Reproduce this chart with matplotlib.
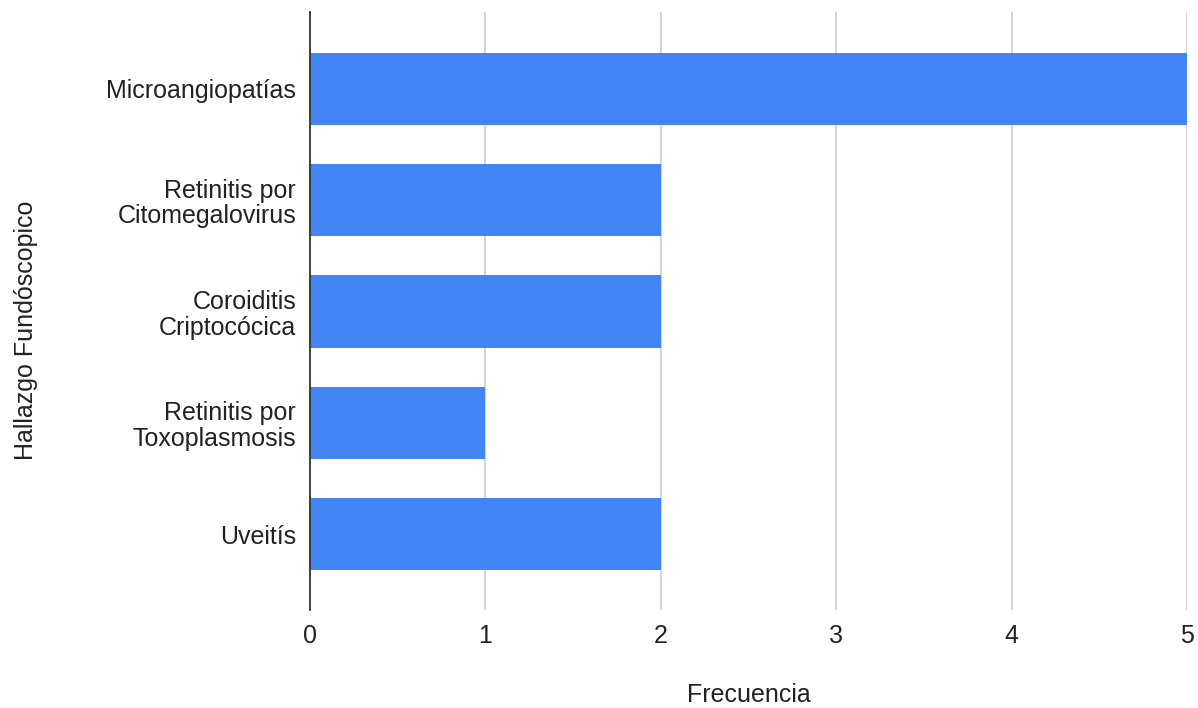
import matplotlib.pyplot as plt
import numpy as np

plt.rcParams['font.family'] = ['Liberation Sans', 'DejaVu Sans']

# Hallazgos del fondo de ojo y su frecuencia
hallazgos = ['Microangiopatías', 'Retinitis por\nCitomegalovirus', 'Coroiditis\nCriptocócica',
             'Retinitis por\nToxoplasmosis', 'Uveitís']
frecuencia = [5, 2, 2, 1, 2]

fig = plt.figure(figsize=(11.98, 7.08), dpi=100)
ax = fig.add_axes([0.2588, 0.1384, 0.7320, 0.8446])

y = np.arange(len(hallazgos))
ax.barh(y, frecuencia, height=0.65, color='#4285F4', zorder=3)

ax.set_xlim(0, 5)
ax.set_ylim(4.68, -0.69)
ax.set_yticks(y)
ax.set_yticklabels(hallazgos, fontsize=18, color='#222222', linespacing=1.08)
ax.set_xticks(range(6))
ax.tick_params(axis='x', labelsize=18, labelcolor='#222222', length=0, pad=10)
ax.tick_params(axis='y', length=0, pad=10)

# cuadrícula vertical gris y eje en cero oscuro
ax.grid(axis='x', color='#cccccc', linewidth=1.2, zorder=0)
ax.grid(axis='y', visible=False)
for s in ['top', 'right', 'bottom']:
    ax.spines[s].set_visible(False)
ax.spines['left'].set_color('#333333')
ax.spines['left'].set_linewidth(1.3)
ax.spines['left'].set_zorder(4)

ax.set_xlabel('Frecuencia', fontsize=18, color='#222222')
ax.xaxis.set_label_coords(0.5, -0.122)
ax.set_ylabel('Hallazgo Fundóscopico', fontsize=18, color='#222222')
ax.yaxis.set_label_coords(-0.31, 0.468)

fig.savefig('out.png', dpi=100)
